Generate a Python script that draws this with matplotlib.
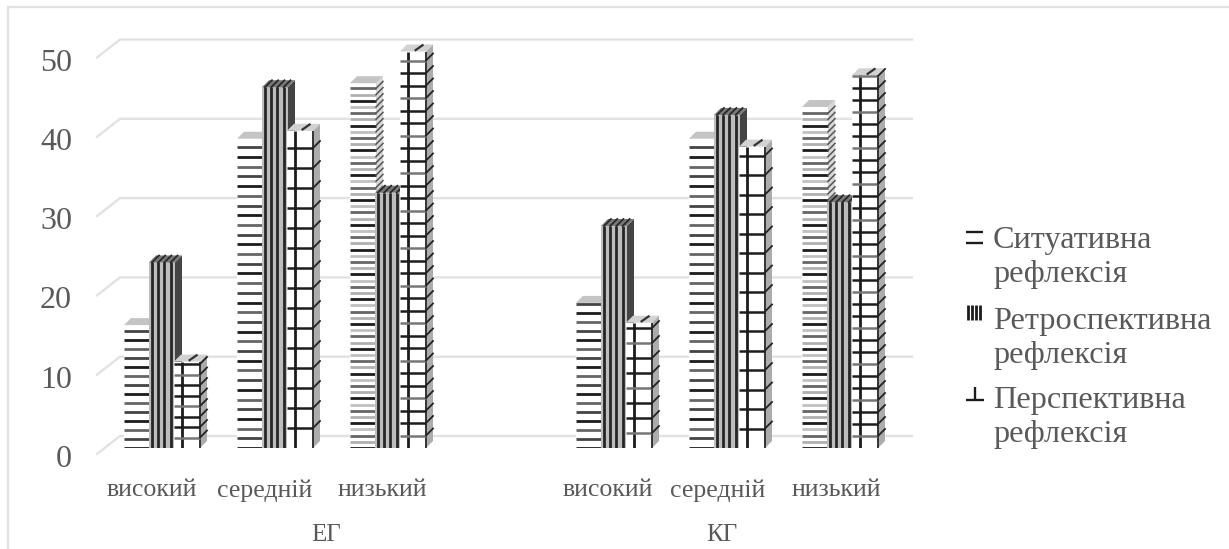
import matplotlib
matplotlib.use("Agg")
import matplotlib.pyplot as plt
from matplotlib.patches import Polygon
from matplotlib.transforms import ScaledTranslation

plt.rcParams['font.family'] = ['Liberation Serif', 'DejaVu Serif']

# ---- data ----
levels = ['високий', 'середній', 'низький', 'високий', 'середній', 'низький']
positions = [0, 1, 2, 4, 5, 6]
groups = ['ЕГ', 'КГ']
series_names = ['Ситуативна\nрефлексія', 'Ретроспективна\nрефлексія', 'Перспективна\nрефлексія']
situational = [15.5, 39, 46, 18.3, 39, 43]
retrospective = [23.4, 45.5, 32.2, 28, 42, 31]
perspective = [10.9, 40, 50, 15.8, 38, 47]
y_ticks = [0, 10, 20, 30, 40, 50]

# ---- style ----
W, H = 1229, 549
PX_X = 113.0        # pixels per category
PX_Y = 7.93         # pixels per unit
X0_PX, Y0_PX = 162.0, 448.0
L_PX, R_PX, T_PX = 97.0, 912.0, 20.0
BAR_STEP = 25.0 / PX_X
BAR_W = 26.0 / PX_X
DX, DY = 7.0 / PX_X, 7.0 / PX_Y
TXT = '#595959'
GRID = '#e2e2e2'
DARK = '#1c1c1c'
S1_SPACING = [9.0, 9.7, 6.2, 9.0, 9.7, 6.2]
S3_SPACING = [10.5, 20.0, 12.5, 15.0, 19.5, 12.0]
LABEL_SHIFT = [-10, -10, -6, -6, -9, -4]

fig = plt.figure(figsize=(W / 100, H / 100), dpi=100, facecolor='white')
ax = fig.add_axes([L_PX / W, 1 - Y0_PX / H, (R_PX - L_PX) / W, (Y0_PX - T_PX) / H])
ax.set_xlim((L_PX - X0_PX) / PX_X, (R_PX - X0_PX) / PX_X)
ax.set_ylim(0, (Y0_PX - T_PX) / PX_Y)
ax.patch.set_alpha(0)
for s in ax.spines.values():
    s.set_visible(False)


def fx(x):
    return x / W


def fy(y):
    return 1 - y / H


# outer frame
fig.add_artist(plt.Line2D([fx(8), fx(8)], [fy(7), 0], color=GRID, lw=1.6))
fig.add_artist(plt.Line2D([fx(8), 1], [fy(7), fy(7)], color=GRID, lw=1.6))

# ticks
ax.set_yticks(y_ticks)
ax.set_yticklabels([str(v) for v in y_ticks], fontsize=23, color=TXT)
ax.tick_params(axis='y', length=0, pad=18)
for lab in ax.get_yticklabels():
    lab.set_transform(lab.get_transform() + ScaledTranslation(0, -8 / 100, fig.dpi_scale_trans))
ax.set_xticks(positions)
ax.set_xticklabels(levels, fontsize=18.6, color=TXT)
ax.tick_params(axis='x', length=0, pad=22.5)
for lab, sh in zip(ax.get_xticklabels(), LABEL_SHIFT):
    lab.set_transform(lab.get_transform() + ScaledTranslation(sh / 100, 0, fig.dpi_scale_trans))

# back wall grid with the left-hand diagonal
back_x = (120 - X0_PX) / PX_X
back_shift = 12 / PX_Y
front_shift = -6 / PX_Y
for v in y_ticks:
    ax.plot([(L_PX - X0_PX) / PX_X, back_x, ax.get_xlim()[1]],
            [v + front_shift, v + back_shift, v + back_shift],
            color=GRID, lw=1.7, zorder=1, clip_on=False, solid_joinstyle='miter')


def faces(left, v, side, top, z):
    right = left + BAR_W
    ax.add_patch(Polygon([(right, 0), (right + DX, DY), (right + DX, v + DY), (right, v)],
                         closed=True, fc=side, ec='none', zorder=z))
    ax.add_patch(Polygon([(left, v), (right, v), (right + DX, v + DY), (left + DX, v + DY)],
                         closed=True, fc=top, ec='none', zorder=z))


def draw_situational(x, v, spacing, z):
    left = x - BAR_STEP - BAR_W / 2
    ax.bar(left + BAR_W / 2, v, BAR_W, color='white', zorder=z)
    faces(left, v, '#d8d8d8', '#c4c4c4', z)
    n = int(v * PX_Y / spacing)
    for k in range(n + 1):
        y = k * spacing / PX_Y
        if spacing > 8:
            c = [DARK, '#444444', '#666666'][k % 3]
        else:
            c = [DARK, '#b0b0b0', '#666666', '#c0c0c0'][k % 4]
        ax.plot([left, left + BAR_W], [y, y], color=c, lw=2.0, zorder=z + 0.1, solid_capstyle='butt')
        ax.plot([left + BAR_W, left + BAR_W + DX], [y, y + DY], color='#555555', lw=1.1, zorder=z + 0.1)


def draw_retrospective(x, v, z):
    left = x - BAR_W / 2
    ax.bar(x, v, BAR_W, color='#bdbdbd', zorder=z)
    faces(left, v, '#444444', '#777777', z)
    for k in range(4):
        xl = left + (3 + 6.2 * k) / PX_X
        ax.plot([xl, xl], [0, v], color='#262626', lw=2.0, zorder=z + 0.1, solid_capstyle='butt')
        ax.plot([xl, xl + DX], [v, v + DY], color='#262626', lw=1.2, zorder=z + 0.1)


def draw_perspective(x, v, spacing, z):
    left = x + BAR_STEP - BAR_W / 2
    ax.bar(left + BAR_W / 2, v, BAR_W, color='white', zorder=z)
    faces(left, v, '#acacac', '#d2d2d2', z)
    xv = left + 8 / PX_X
    ax.plot([xv, xv], [0, v], color=DARK, lw=2.0, zorder=z + 0.1, solid_capstyle='butt')
    ax.plot([left + BAR_W] * 2, [0, v], color='#333333', lw=1.4, zorder=z + 0.1, solid_capstyle='butt')
    n = int(v * PX_Y / spacing)
    for k in range(1, n + 1):
        y = k * spacing / PX_Y
        c = DARK if (k % 3 != 1 or spacing > 16) else '#777777'
        ax.plot([left, left + BAR_W], [y, y], color=c, lw=1.8, zorder=z + 0.1, solid_capstyle='butt')
        ax.plot([left + BAR_W, left + BAR_W + DX], [y, y + DY], color='#222222', lw=1.3, zorder=z + 0.1)
    ax.plot([left + BAR_W * 0.6, left + BAR_W * 0.6 + DX], [v + DY * 0.2, v + DY * 0.9],
            color='#333333', lw=1.6, zorder=z + 0.1)


for i, x in enumerate(positions):
    base = 3 + i
    draw_situational(x, situational[i], S1_SPACING[i], base)
    draw_retrospective(x, retrospective[i], base + 0.2)
    draw_perspective(x, perspective[i], S3_SPACING[i], base + 0.4)

# group labels
for name, gx in zip(groups, [326, 722]):
    fig.text(fx(gx), fy(535), name, fontsize=18, color=TXT, ha='center', va='center')

# legend
for name, yc in zip(series_names, [257.5, 338.5, 417.5]):
    fig.text(fx(993), fy(yc), name, fontsize=23.2, color=TXT, ha='left', va='center', linespacing=1.27)


def leg(xs, ys, lw=1.7):
    fig.add_artist(plt.Line2D([fx(a) for a in xs], [fy(b) for b in ys], color=DARK, lw=lw, solid_capstyle='butt'))


leg([966, 983], [232, 232])
leg([966, 983], [243, 243])
for xv in [968, 972, 976, 980]:
    leg([xv, xv], [305, 320], lw=2.0)
leg([966, 984], [400, 400])
leg([975, 975], [387, 400])

fig.savefig('out.png', dpi=100, facecolor='white')
